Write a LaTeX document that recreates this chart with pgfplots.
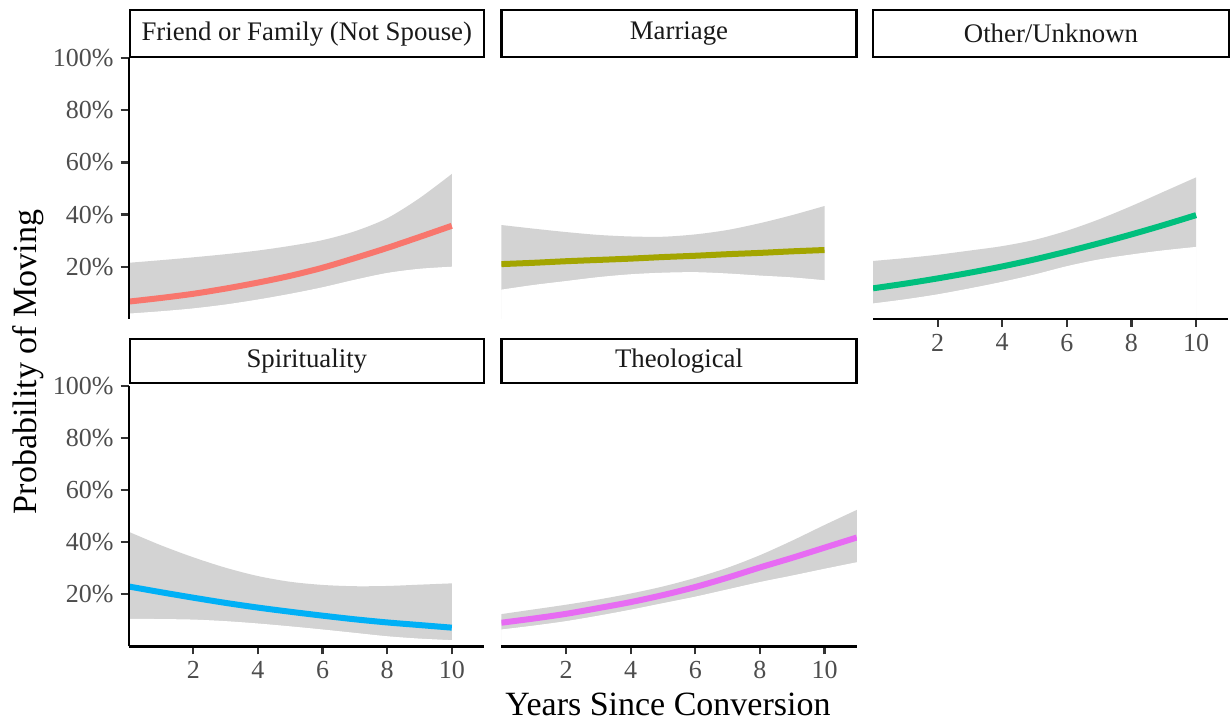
\documentclass[border=0pt]{standalone}
\usepackage{pgfplots}
\pgfplotsset{compat=1.18}
\usepackage{pgfplotstable}
\usepackage{fontspec}
\setmainfont{Liberation Serif}

\definecolor{cFam}{HTML}{F8766D}
\definecolor{cMar}{HTML}{A3A500}
\definecolor{cOth}{HTML}{00BF7D}
\definecolor{cSpi}{HTML}{00B0F6}
\definecolor{cThe}{HTML}{E76BF3}
\definecolor{band}{HTML}{D3D3D3}
\definecolor{tickgray}{HTML}{4D4D4D}
\definecolor{tickmark}{HTML}{333333}

\pgfplotstableread{
x fit lo hi
0 0.066 0.018 0.215
1 0.080 0.027 0.225
2 0.096 0.038 0.236
3 0.116 0.053 0.248
4 0.139 0.072 0.262
5 0.165 0.094 0.280
6 0.196 0.119 0.302
7 0.233 0.148 0.336
8 0.272 0.174 0.386
9 0.314 0.190 0.463
10 0.357 0.198 0.556
}\famtab

\pgfplotstableread{
x fit lo hi
0 0.210 0.110 0.360
1 0.215 0.128 0.346
2 0.221 0.143 0.333
3 0.226 0.158 0.322
4 0.231 0.169 0.316
5 0.237 0.175 0.315
6 0.242 0.177 0.324
7 0.248 0.172 0.341
8 0.253 0.164 0.367
9 0.259 0.157 0.398
10 0.264 0.146 0.433
}\martab

\pgfplotstableread{
x fit lo hi
0 0.117 0.057 0.222
1 0.135 0.073 0.233
2 0.155 0.092 0.246
3 0.177 0.115 0.262
4 0.201 0.140 0.279
5 0.228 0.168 0.303
6 0.258 0.200 0.338
7 0.290 0.226 0.382
8 0.324 0.245 0.433
9 0.360 0.261 0.488
10 0.398 0.274 0.543
}\othtab

\pgfplotstableread{
x fit lo hi
0 0.230 0.104 0.440
1 0.208 0.103 0.388
2 0.187 0.101 0.342
3 0.167 0.095 0.302
4 0.149 0.086 0.270
5 0.133 0.075 0.248
6 0.118 0.063 0.236
7 0.104 0.050 0.231
8 0.092 0.037 0.232
9 0.082 0.028 0.237
10 0.072 0.022 0.242
}\spitab

\pgfplotstableread{
x fit lo hi
0 0.091 0.063 0.124
1 0.107 0.078 0.142
2 0.125 0.095 0.160
3 0.147 0.116 0.180
4 0.170 0.139 0.203
5 0.197 0.164 0.230
6 0.228 0.189 0.263
7 0.264 0.217 0.302
8 0.303 0.245 0.350
9 0.340 0.270 0.406
10 0.379 0.296 0.466
11 0.418 0.321 0.524
}\thetab

\pgfplotsset{
  panel/.style={
    scale only axis, width=177.7pt, height=130.25pt,
    xmin=0, xmax=11, ymin=0, ymax=1,
    anchor=south west,
    axis on top,
    axis x line*=bottom, axis y line*=left,
    axis line style={-, line width=1.2pt, black},
    tick align=outside, major tick length=4pt,
    tick style={line width=1.1pt, tickmark},
    xtick={2,4,6,8,10}, xticklabels={2,4,6,8,10},
    ytick={0.2,0.4,0.6,0.8,1}, yticklabels={20\%,40\%,60\%,80\%,100\%},
    ticklabel style={font=\fontsize{13}{15}\selectfont, text=tickgray},
  },
  noy/.style={ytick=\empty, y axis line style={draw=none}},
  nox/.style={xtick=\empty, x axis line style={draw=none}},
  hiband/.style={draw=none, fill=band, smooth},
  loband/.style={draw=white, line width=0.5pt, fill=white, smooth},
  fitline/.style={line width=3pt, smooth},
}

\begin{document}
\begin{tikzpicture}
\useasboundingbox (0pt,0pt) rectangle (615.5pt,-360.5pt);

\begin{axis}[panel, nox, at={(64.35pt,-159.4pt)}]
\addplot[hiband] table[x=x,y=hi]{\famtab} \closedcycle;
\addplot[loband] table[x=x,y=lo]{\famtab} \closedcycle;
\addplot[cFam, fitline] table[x=x,y=fit]{\famtab};
\end{axis}
\begin{axis}[panel, nox, noy, at={(250.7pt,-159.4pt)}]
\addplot[hiband] table[x=x,y=hi]{\martab} \closedcycle;
\addplot[loband] table[x=x,y=lo]{\martab} \closedcycle;
\addplot[cMar, fitline] table[x=x,y=fit]{\martab};
\end{axis}
\begin{axis}[panel, noy, at={(436.5pt,-159.4pt)}]
\addplot[hiband] table[x=x,y=hi]{\othtab} \closedcycle;
\addplot[loband] table[x=x,y=lo]{\othtab} \closedcycle;
\addplot[cOth, fitline] table[x=x,y=fit]{\othtab};
\end{axis}
\begin{axis}[panel, at={(64.35pt,-323.2pt)}]
\addplot[hiband] table[x=x,y=hi]{\spitab} \closedcycle;
\addplot[loband] table[x=x,y=lo]{\spitab} \closedcycle;
\addplot[cSpi, fitline] table[x=x,y=fit]{\spitab};
\end{axis}
\begin{axis}[panel, noy, at={(250.7pt,-323.2pt)}]
\addplot[hiband] table[x=x,y=hi]{\thetab} \closedcycle;
\addplot[loband] table[x=x,y=lo]{\thetab} \closedcycle;
\addplot[cThe, fitline] table[x=x,y=fit]{\thetab};
\end{axis}

% strips
\begin{scope}[line width=1.2pt]
\draw[fill=white] (64.85pt,-5.15pt) rectangle (242pt,-28.65pt);
\draw[fill=white] (250.7pt,-5.15pt) rectangle (428.3pt,-28.65pt);
\draw[fill=white] (436.5pt,-5.15pt) rectangle (614.5pt,-28.65pt);
\draw[fill=white] (64.85pt,-169.65pt) rectangle (242pt,-191.65pt);
\draw[fill=white] (250.7pt,-169.65pt) rectangle (428.3pt,-191.65pt);
\end{scope}
\begin{scope}[every node/.style={font=\fontsize{13.4}{15}\selectfont, text=black!90}]
\node at (153.4pt,-16.9pt) {Friend or Family (Not Spouse)};
\node at (339.5pt,-16.9pt) {Marriage};
\node at (525.5pt,-16.9pt) {Other/Unknown};
\node at (153.4pt,-180.6pt) {Spirituality};
\node at (339.5pt,-180.6pt) {Theological};
\end{scope}

\node[rotate=90, font=\fontsize{17}{20}\selectfont] at (14pt,-181pt) {Probability of Moving};
\node[font=\fontsize{17}{20}\selectfont] at (334pt,-352.3pt) {Years Since Conversion};
\end{tikzpicture}
\end{document}
